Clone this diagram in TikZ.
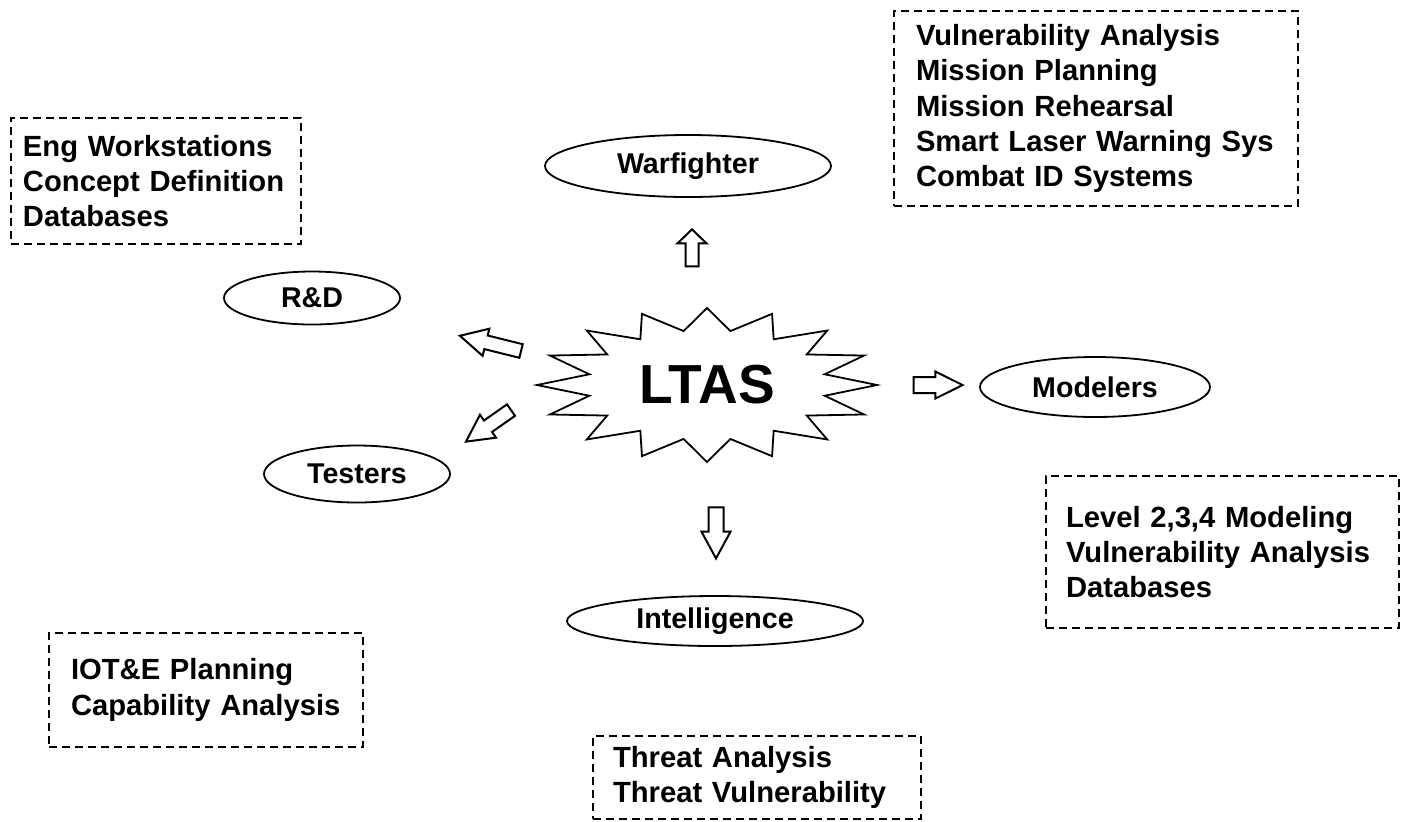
\documentclass[tikz,border=0pt]{standalone}
\usepackage{fontspec}
\setmainfont{Liberation Sans}
\usetikzlibrary{shapes.geometric,shapes.arrows}

\tikzset{
  user/.style={draw, ellipse, line width=0.9pt, inner sep=0pt,
    font=\bfseries\fontsize{14.3}{16}\selectfont},
  infobox/.style={draw, dash pattern=on 4pt off 2.5pt, line width=1pt,
    align=left, anchor=north west, inner ysep=0pt,
    font=\bfseries\fontsize{14.6}{17.6}\selectfont},
  fatarrow/.style={draw, single arrow, line width=1pt, inner xsep=0pt,
    minimum width=0pt}
}

\begin{document}
\begin{tikzpicture}[x=0.5pt, y=-0.5pt]
  \useasboundingbox (0,0) rectangle (1408,821);

  % centre
  \node[font=\bfseries\fontsize{27.5}{30}\selectfont] (ltas) at (707,385) {LTAS};
  \draw[line width=0.9pt] plot[variable=\k, samples at={0,...,31}]
    ({707+ifthenelse(iseven(\k),170,120)*cos(\k*11.25)},
     {385-ifthenelse(iseven(\k),77,55)*sin(\k*11.25)}) -- cycle;

  % users
  \node[user, minimum width=143pt, minimum height=31pt] (warf) at (688,166) {Warfighter};
  \node[user, minimum width=88pt, minimum height=26.5pt] (rd) at (312,298) {R\&D};
  \node[user, minimum width=115pt, minimum height=30pt] (model) at (1095,387) {Modelers};
  \node[user, minimum width=93pt, minimum height=28.5pt] (test) at (357,474) {Testers};
  \node[user, minimum width=148pt, minimum height=25pt] (intel) at (715,621) {Intelligence};

  % arrows
  \node[fatarrow, rotate=90, minimum height=18.5pt, inner ysep=2.75pt,
    single arrow head extend=4pt, single arrow tip angle=92] (uparrow) at (692,251) {};
  \node[fatarrow, minimum height=24.5pt, inner ysep=3.5pt,
    single arrow head extend=2.75pt, single arrow tip angle=53] (rightarrow) at (930,385) {};
  \node[fatarrow, rotate=-90, minimum height=25.5pt, inner ysep=3.25pt,
    single arrow head extend=3.5pt, single arrow tip angle=57] (downarrow) at (716,526) {};
  \node[fatarrow, rotate=166, minimum height=31.5pt, inner ysep=3pt,
    single arrow head extend=3.5pt, single arrow tip angle=55] (rdarrow) at (497,345) {};
  \node[fatarrow, rotate=215, minimum height=27.5pt, inner ysep=3pt,
    single arrow head extend=3.5pt, single arrow tip angle=55] (testarrow) at (494,422) {};

  % what each user does
  \node[infobox, text width=180pt, minimum height=97.5pt, inner xsep=11pt] (warfbox) at (893,10)
    {Vulnerability Analysis\\Mission Planning\\Mission Rehearsal\\Smart Laser Warning Sys\\Combat ID Systems};
  \node[infobox, text width=133pt, minimum height=63pt, inner xsep=6pt] (rdbox) at (10,117)
    {Eng Workstations\\Concept Definition\\Databases};
  \node[infobox, text width=156.5pt, minimum height=76pt, inner xsep=10pt] (modbox) at (1045,475)
    {Level 2,3,4 Modeling\\Vulnerability Analysis\\Databases};
  \node[infobox, text width=135pt, minimum height=57pt, inner xsep=11pt] (testbox) at (48,632)
    {IOT\&E Planning\\Capability Analysis};
  \node[infobox, text width=144pt, minimum height=41.5pt, inner xsep=10pt] (intbox) at (592,735)
    {Threat Analysis\\Threat Vulnerability};
\end{tikzpicture}
\end{document}
